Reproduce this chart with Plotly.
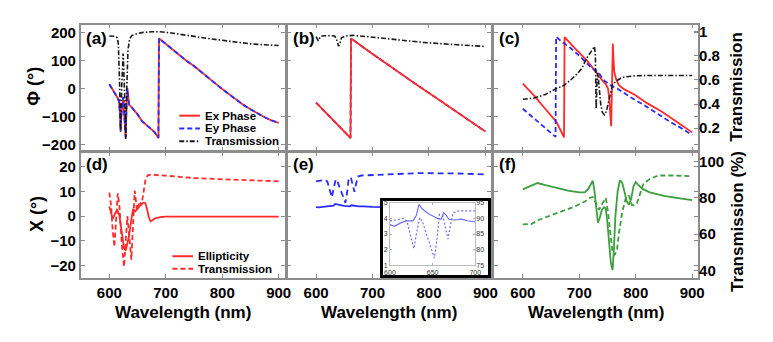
import plotly.graph_objects as go

FONT = "Liberation Sans, Arial, sans-serif"
RED = "#ff2b2b"
BLUE = "#2b2bff"
GREEN = "#3d9e3d"
BLACK = "#1a1a1a"
GRAY = "#8c8c8c"

# ---------------- data ----------------
# (a)
wl_a_phase = [600, 605, 610, 615, 617, 619, 620, 621.5, 623, 624.5, 626, 627.5, 629, 630.5, 632, 633.5, 635,
              640, 645, 650, 658, 665, 672, 680, 687, 688, 690, 700, 712, 725, 737, 750, 762, 775, 787, 800,
              812, 825, 837, 850, 862, 875, 887, 900]
ex_a = [15, 0, -18, -35, -45, -90, -150, -90, -50, -30, -80, -140, -174, -60, 0, -30, -57,
        -68, -80, -92, -116, -128, -140, -155, -176, 178, 175, 158, 138, 118, 98, 80, 60, 38, 18, -2,
        -20, -40, -58, -74, -88, -102, -113, -122]
ey_a = [15, 0, -18, -35, -45, -90, -150, -90, -50, -30, -80, -140, -174, -60, 0, -30, -57,
        -68, -80, -92, -116, -128, -140, -155, -176, 178, 175, 158, 138, 118, 98, 80, 60, 38, 18, -2,
        -20, -40, -58, -74, -88, -102, -113, -122]
wl_a_t = [600, 605, 610, 614, 616, 618, 620, 622, 624.5, 627, 629, 631, 633, 636, 640, 650, 660, 675, 690,
          710, 730, 750, 775, 800, 825, 850, 875, 900]
t_a = [0.965, 0.966, 0.963, 0.95, 0.9, 0.6, 0.17, 0.55, 0.82, 0.5, 0.11, 0.55, 0.85, 0.94, 0.97, 0.985, 0.995,
       1.0, 1.0, 0.99, 0.978, 0.962, 0.944, 0.928, 0.912, 0.9, 0.892, 0.886]

# (b)
wl_b_phase = [600, 610, 620, 630, 640, 650, 661, 662, 670, 680, 690, 700, 725, 750, 775, 800, 825, 850, 875, 900]
ex_b = [-50, -71, -91, -112, -133, -153, -176, 178, 167, 153, 138, 123, 88, 52, 18, -16, -50, -84, -118, -153]
ey_b = [-50, -71, -91, -112, -133, -153, -176, 178, 167, 153, 138, 123, 88, 52, 18, -16, -50, -84, -118, -153]
wl_b_t = [600, 602, 604, 606, 609, 625, 633, 636, 638, 640, 642, 645, 652, 665, 690, 720, 754, 790, 824, 860, 900]
t_b = [0.96, 0.945, 0.925, 0.945, 0.965, 0.968, 0.965, 0.94, 0.9, 0.88, 0.9, 0.95, 0.965, 0.97, 0.96, 0.945,
       0.927, 0.912, 0.9, 0.888, 0.878]

# (c)
wl_c_ex = [600, 620, 640, 660, 673, 674, 690, 705, 714, 722, 730, 736, 742, 747, 751, 753, 755, 756.5, 757.5,
           758.5, 759.5, 760.5, 762, 765, 770, 780, 799, 820, 845, 870, 900]
ex_c = [17, -25, -73, -120, -174, 183, 148, 118, 98, 78, 58, 39, 26, 16, 0, -36, -90, -134, -40,
        100, 160, 110, 60, 35, 12, -3, -23, -52, -81, -115, -156]
wl_c_ey = [600, 620, 640, 658, 659, 670, 684, 704, 721, 730, 734, 736, 740, 744.5, 755, 768, 790, 814, 837,
           860, 880, 900]
ey_c = [-72, -106, -139, -172, 184, 165, 145, 109, 74, 62, 58, 52, 38, 28, 12, -1, -30, -58, -88, -117, -140, -165]
wl_c_t = [600, 620, 640, 658, 672, 685, 698, 705, 713, 720, 725, 727, 728.5, 730, 731.5, 733, 735, 738, 741,
          744.5, 748, 752, 756, 759, 765, 772, 780, 790, 800, 820, 850, 900]
t_c = [0.44, 0.45, 0.48, 0.525, 0.553, 0.6, 0.66, 0.7, 0.78, 0.83, 0.87, 0.878, 0.8, 0.36, 0.6, 0.66, 0.55,
       0.4, 0.33, 0.31, 0.34, 0.42, 0.52, 0.56, 0.59, 0.61, 0.625, 0.632, 0.635, 0.637, 0.637, 0.637]

# (d)
wl_d_chi = [600, 603, 606, 610, 614, 618, 622, 626, 629, 632, 635, 638, 642, 646, 649, 652, 655, 658, 661,
            664, 667, 670, 673, 676, 680, 690, 700, 750, 800, 850, 900]
chi_d = [3.9, 1.2, -1.1, 1.0, 2.6, 0, -7, -13, -14, -11, -8, -3, 2.9, 1.9, 2.8, 3.3, 4.5, 5.2, 5.4,
         5.2, 2.6, -0.5, -2.1, -1.8, -1.0, -0.4, -0.2, -0.2, -0.2, -0.2, -0.2]
wl_d_t = [600, 603, 606, 609, 612, 615, 618, 622, 626, 629, 632, 635, 639, 642, 645, 649, 653, 657, 660, 664,
          668, 673, 700, 750, 800, 850, 900]
t_d = [83, 76, 62, 53, 68, 82.5, 75, 55, 42, 55, 70, 60, 46, 65, 84, 73, 78, 76, 82, 90,
       92.5, 92.8, 92.3, 91, 90.3, 89.6, 89.2]

# (e) and inset
wl_e_chi = [600, 605, 612, 619, 627, 631, 634, 638, 645, 650, 656, 660, 663, 666, 669, 675, 684, 690, 700,
            720, 750, 800, 850, 900]
chi_e = [3.6, 3.5, 3.7, 3.84, 3.85, 4.2, 4.9, 4.6, 4.3, 4.15, 4.0, 3.95, 4.37, 4.2, 3.95, 3.9, 3.95, 3.85,
         3.75, 3.65, 3.6, 3.5, 3.45, 3.4]
wl_e_t = [600, 610, 616, 620, 624, 628, 632, 635, 638, 642, 647, 652, 655, 658, 662, 665, 668, 671, 674, 681,
          700, 750, 783, 850, 900]
t_e = [89.2, 89.8, 90, 89, 85, 80.3, 86.5, 90.3, 89, 85.5, 81.8, 77.3, 83, 91.3, 90.8, 87, 83.4, 88, 91.8,
       92.4, 92.6, 93.3, 93.7, 93.5, 93]

# (f)
wl_f_chi = [600, 610, 618, 626, 640, 660, 680, 700, 710, 716, 720, 724, 727, 730, 733, 736, 740, 744, 747,
            750, 753, 756, 759, 761, 764, 768, 772, 776, 780, 784, 788, 792, 796, 800, 805, 812, 825, 850,
            875, 900]
chi_f = [10.8, 11.8, 12.8, 13.4, 12.5, 11.3, 10.3, 9.6, 9.6, 11, 12.8, 14.3, 10, 2, -2.7, -1, 2.5, 3.6, 3,
         -3, -12, -19, -21.9, -15, 0, 10, 14.5, 13.5, 10, 6, 4.6, 7, 12, 13.8, 12.5, 11, 9.6, 8.2, 7.3, 6.5]
wl_f_t = [600, 615, 629, 650, 669, 690, 710, 718, 724, 730, 735, 741, 747, 751, 755, 759, 763, 767, 771, 776,
          782, 788, 793, 797, 802, 808, 814, 825, 840, 870, 900]
t_f = [65.4, 65.6, 68, 70.5, 72.6, 75, 78, 80, 80.5, 77, 73.5, 77, 80, 72, 60, 50, 48.5, 52, 62, 72,
       79.5, 81.5, 76.2, 76, 77, 83, 88, 90.5, 92.4, 92.4, 92]

x_ticks = [600, 700, 800, 900]
phase_ticks = [-200, -100, 0, 100, 200]
chi_ticks = [-20, -10, 0, 10, 20]
trans_ticks = [0.2, 0.4, 0.6, 0.8, 1]
trans_tick_text = ["0.2", "0.4", "0.6", "0.8", "1"]
transpct_ticks = [40, 60, 80, 100]
inset_x_ticks = [600, 650, 700]
inset_chi_ticks = [1, 2, 3, 4, 5]
inset_t_ticks = [75, 80, 85, 90, 95]

panel_labels = ["(a)", "(b)", "(c)", "(d)", "(e)", "(f)"]

# ---------------- layout geometry ----------------
W, H = 773, 342
col_x = [(76, 283), (286, 493), (496, 703)]
row_y = [(21, 150), (151, 280)]


def fx(p):
    return p / W


def fy(p):
    return (H - p) / H


def tfont(size, color="black", weight="bold"):
    return dict(family=FONT, size=size, color=color, weight=weight)


fig = go.Figure()


def yid(n):
    return "y" if n == 1 else f"y{n}"


def xid(n):
    return "x" if n == 1 else f"x{n}"


def add(i, x, y, color, dash, secondary=False, width=1.8):
    fig.add_trace(go.Scatter(x=x, y=y, mode="lines",
                             line=dict(color=color, dash=dash, width=width),
                             xaxis=xid(i + 1), yaxis=yid(i + 7 if secondary else i + 1),
                             showlegend=False, hoverinfo="skip"))


DASHDOT = "5px,2px,1.5px,2px"
DASH = "5px,3px"

# (a)
add(0, wl_a_phase, ex_a, RED, "solid")
add(0, wl_a_phase, ey_a, BLUE, DASH)
add(0, wl_a_t, t_a, BLACK, DASHDOT, True, 1.6)
# (b)
add(1, wl_b_phase, ey_b, BLUE, DASH)
add(1, wl_b_phase, ex_b, RED, "solid")
add(1, wl_b_t, t_b, BLACK, DASHDOT, True, 1.6)
# (c)
add(2, wl_c_ex, ex_c, RED, "solid")
add(2, wl_c_ey, ey_c, BLUE, DASH)
add(2, wl_c_t, t_c, BLACK, DASHDOT, True, 1.6)
# (d)
add(3, wl_d_chi, chi_d, RED, "solid")
add(3, wl_d_t, t_d, RED, DASH, True)
# (e)
add(4, wl_e_chi, chi_e, BLUE, "solid")
add(4, wl_e_t, t_e, BLUE, "6px,4px", True)
# (f)
add(5, wl_f_chi, chi_f, GREEN, "solid")
add(5, wl_f_t, t_f, GREEN, DASH, True)

# inset frame subplot (x7 / y13) and inset subplot (x8 / y14, y15)
fig.add_trace(go.Scatter(x=[], y=[], mode="lines", xaxis="x7", yaxis="y13", showlegend=False))
fig.add_trace(go.Scatter(x=wl_e_chi, y=chi_e, mode="lines", line=dict(color="#6f6fff", width=1.2),
                         xaxis="x8", yaxis="y14", showlegend=False, hoverinfo="skip"))
fig.add_trace(go.Scatter(x=wl_e_t, y=t_e, mode="lines", line=dict(color="#6f6fff", width=1.2, dash="2px,2px"),
                         xaxis="x8", yaxis="y15", showlegend=False, hoverinfo="skip"))

layout = dict(width=W, height=H, margin=dict(l=0, r=0, t=0, b=0),
              paper_bgcolor="white", plot_bgcolor="white", showlegend=False)

for i in range(6):
    r, c = divmod(i, 3)
    x0, x1 = col_x[c]
    y0, y1 = row_y[r]
    xa = dict(domain=[fx(x0), fx(x1)], range=[549.5, 910.5], anchor=yid(i + 1),
              tickvals=x_ticks, ticks="inside", ticklen=4, tickcolor=GRAY, tickwidth=1,
              showline=True, linecolor=GRAY, linewidth=1.8, mirror="ticks",
              showgrid=False, zeroline=False, showticklabels=(r == 1),
              tickfont=tfont(15))
    if r == 0:
        ya = dict(range=[-222, 227.5], tickvals=phase_ticks)
        y2 = dict(range=[0.011, 1.06], tickvals=trans_ticks, ticktext=trans_tick_text)
    else:
        ya = dict(range=[-25.2, 26], tickvals=chi_ticks)
        y2 = dict(range=[35.7, 105.4], tickvals=transpct_ticks)
    ya.update(domain=[fy(y1), fy(y0)], anchor=xid(i + 1), ticks="inside", ticklen=4, tickcolor=GRAY,
              showline=True, linecolor=GRAY, linewidth=1.8, mirror="ticks", showgrid=False,
              zeroline=False, showticklabels=(c == 0), tickfont=tfont(15))
    y2.update(overlaying=yid(i + 1), anchor=xid(i + 1), side="right", showgrid=False, zeroline=False,
              showline=False)
    if c == 2:
        y2.update(ticks="inside", ticklen=4, tickcolor=GRAY, showticklabels=True, tickfont=tfont(15))
    else:
        y2.update(visible=False)
    layout["xaxis" if i == 0 else f"xaxis{i + 1}"] = xa
    layout["yaxis" if i == 0 else f"yaxis{i + 1}"] = ya
    layout[f"yaxis{i + 7}"] = y2

# inset black frame
layout["xaxis7"] = dict(domain=[fx(383), fx(490)], range=[0, 1], anchor="y13", showline=True,
                        linecolor="black", linewidth=2.5, mirror=True, ticks="", showticklabels=False,
                        showgrid=False, zeroline=False)
layout["yaxis13"] = dict(domain=[fy(277), fy(201.5)], range=[0, 1], anchor="x7", showline=True,
                         linecolor="black", linewidth=2.5, mirror=True, ticks="", showticklabels=False,
                         showgrid=False, zeroline=False)
# inset axes
ifont = tfont(7, "#333", "normal")
layout["xaxis8"] = dict(domain=[fx(390), fx(476.7)], range=[600, 700], anchor="y14", tickvals=inset_x_ticks,
                        ticks="inside", ticklen=2, tickcolor="#aaa", showline=True, linecolor="#bbb",
                        linewidth=1, mirror="ticks", showgrid=False, zeroline=False, tickfont=ifont)
layout["yaxis14"] = dict(domain=[fy(266.7), fy(203)], range=[1, 5], anchor="x8", tickvals=inset_chi_ticks,
                         ticks="inside", ticklen=2, tickcolor="#aaa", showline=True, linecolor="#bbb",
                         linewidth=1, mirror="ticks", showgrid=False, zeroline=False, tickfont=ifont)
layout["yaxis15"] = dict(overlaying="y14", anchor="x8", side="right", range=[75, 95], tickvals=inset_t_ticks,
                         ticks="inside", ticklen=2, tickcolor="#aaa", showline=False, showgrid=False,
                         zeroline=False, tickfont=ifont)


def ann(text, px, py, size, xanchor="center", angle=0):
    return dict(text=text, x=fx(px), y=fy(py), xref="paper", yref="paper", xanchor=xanchor,
                yanchor="middle", textangle=angle, showarrow=False, font=tfont(size))


annotations = []
# panel labels
lab_pos = [(79, 35), (289, 35), (499, 35), (79, 164), (289, 164), (499, 164)]
for lab, (px, py) in zip(panel_labels, lab_pos):
    annotations.append(ann(lab, px, py, 17, "left"))
# axis titles
annotations.append(ann("Φ (°)", 29, 84, 18, angle=-90))
annotations.append(ann("Χ (°)", 31, 215, 18, angle=-90))
annotations.append(ann("Transmission", 742, 84, 17, angle=-90))
annotations.append(ann("Transmission (%)", 743, 222, 17, angle=-90))
for (x0, x1) in col_x:
    annotations.append(ann("Wavelength (nm)", (x0 + x1) / 2, 315, 17))

# legends (drawn by hand for compact rows)
shapes = []
leg_a = [("Ex Phase", RED, "solid"), ("Ey Phase", BLUE, DASH), ("Transmission", BLACK, DASHDOT)]
for k, (name, col, dsh) in enumerate(leg_a):
    yy = 114 + 13 * k
    shapes.append(dict(type="line", xref="paper", yref="paper", x0=fx(176), x1=fx(197), y0=fy(yy), y1=fy(yy),
                       line=dict(color=col, width=2, dash=dsh)))
    annotations.append(ann(name, 200, yy, 11.5, "left"))
leg_d = [("Ellipticity", RED, "solid"), ("Transmission", RED, DASH)]
for k, (name, col, dsh) in enumerate(leg_d):
    yy = 257.5 + 12.7 * k
    shapes.append(dict(type="line", xref="paper", yref="paper", x0=fx(169), x1=fx(190), y0=fy(yy), y1=fy(yy),
                       line=dict(color=col, width=2, dash=dsh)))
    annotations.append(ann(name, 193, yy, 11.5, "left"))

layout["annotations"] = annotations
layout["shapes"] = shapes
fig.update_layout(**layout)
fig.write_html("out.html")
